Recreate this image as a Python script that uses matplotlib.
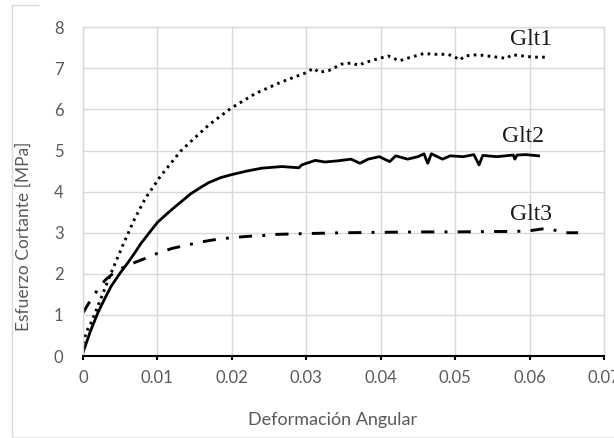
import matplotlib.pyplot as plt
from matplotlib.lines import Line2D

# Glt1 (dotted)
glt1_x = [0, 0.0005, 0.0011, 0.002, 0.0036, 0.0053, 0.0069, 0.0084, 0.0104, 0.0131,
          0.0145, 0.0169, 0.0199, 0.0232, 0.0267, 0.0298, 0.031, 0.0317, 0.0331, 0.0347,
          0.0361, 0.037, 0.0379, 0.0394, 0.041, 0.0425, 0.0437, 0.0458, 0.0471, 0.049,
          0.0499, 0.0506, 0.0513, 0.053, 0.0569, 0.0576, 0.0605, 0.0623]
glt1_y = [0.3, 0.6, 0.81, 1.21, 1.94, 2.67, 3.32, 3.84, 4.37, 4.98,
          5.22, 5.62, 6.03, 6.39, 6.67, 6.88, 7.0, 6.9, 6.95, 7.1,
          7.13, 7.07, 7.14, 7.22, 7.3, 7.18, 7.25, 7.36, 7.34, 7.34,
          7.28, 7.2, 7.3, 7.33, 7.24, 7.33, 7.27, 7.27]

# Glt2 (solid)
glt2_x = [0, 0.001, 0.002, 0.003, 0.0038, 0.005, 0.006, 0.007, 0.0078, 0.009,
          0.01, 0.0114, 0.0127, 0.0145, 0.0158, 0.0169, 0.0185, 0.0199, 0.022, 0.024,
          0.0267, 0.029, 0.0294, 0.0312, 0.0325, 0.0343, 0.036, 0.0372, 0.0383, 0.0398,
          0.0412, 0.042, 0.0436, 0.045, 0.0458, 0.0463, 0.0468, 0.0483, 0.0493, 0.0511,
          0.0525, 0.0532, 0.0537, 0.0556, 0.0578, 0.058, 0.0583, 0.0595, 0.0612]
glt2_y = [0.08, 0.6, 1.05, 1.42, 1.7, 2.02, 2.26, 2.52, 2.74, 3.02,
          3.25, 3.48, 3.68, 3.95, 4.1, 4.22, 4.34, 4.41, 4.5, 4.57,
          4.61, 4.58, 4.65, 4.76, 4.72, 4.75, 4.79, 4.69, 4.79, 4.85,
          4.73, 4.87, 4.79, 4.85, 4.92, 4.69, 4.92, 4.79, 4.87, 4.85,
          4.9, 4.65, 4.88, 4.85, 4.89, 4.79, 4.89, 4.9, 4.87]

# Glt3 (dash-dot)
glt3_x = [0, 0.001, 0.002, 0.003, 0.004, 0.005, 0.006, 0.007, 0.008, 0.009,
          0.010, 0.012, 0.014, 0.016, 0.018, 0.020, 0.022, 0.024, 0.026, 0.028,
          0.030, 0.035, 0.040, 0.045, 0.050, 0.055, 0.058, 0.060, 0.062, 0.063,
          0.0645, 0.0665]
glt3_y = [1.05, 1.35, 1.62, 1.85, 2.0, 2.12, 2.2, 2.28, 2.35, 2.42,
          2.5, 2.62, 2.7, 2.78, 2.84, 2.88, 2.91, 2.93, 2.96, 2.97,
          2.98, 3.0, 3.01, 3.02, 3.02, 3.03, 3.03, 3.05, 3.1, 3.08,
          3.0, 3.0]

labels = ['Glt1', 'Glt2', 'Glt3']
label_x = [0.0573, 0.0563, 0.0573]
label_y = [7.69, 5.34, 3.44]

fig = plt.figure(figsize=(6.14, 4.38), dpi=100)
ax = fig.add_axes([0.135, 0.187, 0.849, 0.751])

ax.plot(glt1_x, glt1_y, color='black', lw=2.1, linestyle=(0, (0.9, 1.5)),
        dash_capstyle='butt')
ax.plot(glt2_x, glt2_y, color='black', lw=2.0, linestyle='-')
ax.plot(glt3_x, glt3_y, color='black', lw=2.1, linestyle=(0, (4.5, 3.5, 1, 3.5)))

for t, lx, ly in zip(labels, label_x, label_y):
    ax.text(lx, ly, t, family='Liberation Serif', fontsize=17, va='center', ha='left',
            color='#1a1a1a')

ax.set_xlim(0, 0.07)
ax.set_ylim(0, 8)
ax.set_xticks([0, 0.01, 0.02, 0.03, 0.04, 0.05, 0.06, 0.07])
ax.set_xticklabels(['0', '0.01', '0.02', '0.03', '0.04', '0.05', '0.06', '0.07'])
ax.set_yticks(range(0, 9))

ax.grid(True, color='#d9d9d9', lw=1.0)
ax.set_axisbelow(True)
for s in ['top', 'right', 'left']:
    ax.spines[s].set_color('#d9d9d9')
    ax.spines[s].set_linewidth(1.0)
ax.spines['bottom'].set_color('black')
ax.spines['bottom'].set_linewidth(1.5)

ax.tick_params(axis='x', direction='out', length=3, width=1.5, color='black',
               labelsize=12, labelcolor='#595959', pad=7)
ax.tick_params(axis='y', length=0, labelsize=12, labelcolor='#595959', pad=14)
for lab in ax.get_xticklabels() + ax.get_yticklabels():
    lab.set_family('Lato')

ax.set_xlabel('Deformación Angular', family='Lato', fontsize=13, color='#595959')
ax.set_ylabel('Esfuerzo Cortante [MPa]', family='Lato', fontsize=12.5, color='#595959')
ax.xaxis.set_label_coords(0.478, -0.17)
ax.yaxis.set_label_coords(-0.098, 0.365)

# outer chart border fragments
fig.add_artist(Line2D([11.7 / 614, 11.7 / 614], [1 - 5 / 438, 0], color='#d9d9d9', lw=1))
fig.add_artist(Line2D([11.7 / 614, 38 / 614], [1 - 5 / 438, 1 - 5 / 438], color='#d9d9d9', lw=1))
fig.add_artist(Line2D([11.7 / 614, 1], [1 - 437 / 438, 1 - 437 / 438], color='#e6e6e6', lw=1))

fig.savefig('out.png', dpi=100)
